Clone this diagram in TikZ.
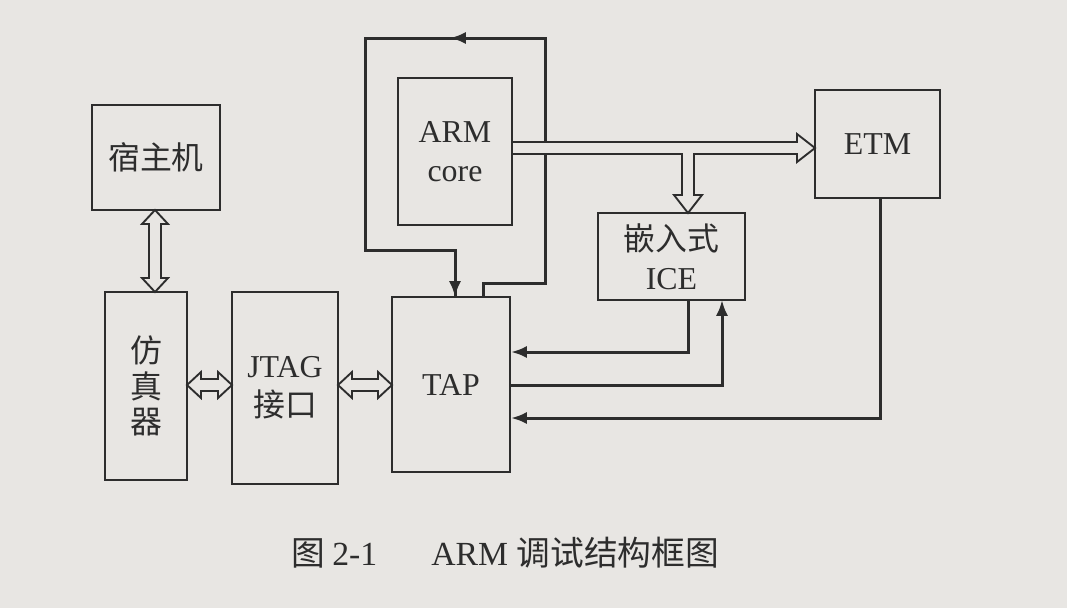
\documentclass[tikz,border=0pt]{standalone}
\usepackage{fontspec}
\setmainfont{Liberation Serif}
\newfontfamily\cjk{Noto Sans CJK SC}
\usetikzlibrary{arrows.meta}
\definecolor{paper}{RGB}{232,230,227}
\definecolor{ink}{RGB}{45,45,45}
\begin{document}
\begin{tikzpicture}[x=0.0375cm,y=-0.0375cm,
  box/.style={draw=ink,line width=2.2pt,inner sep=0pt,align=center,font=\fontsize{34}{42}\selectfont,text=ink},
  wire/.style={draw=ink,line width=3.2pt},
  hollow/.style={draw=ink,line width=2pt,fill=paper,line join=miter},
  tip/.style={-{Latex[length=17pt,width=13pt]}}]
\fill[paper] (0,0) rectangle (1067,608);
\useasboundingbox (0,0) rectangle (1067,608);
\node[box,minimum width=4.8cm,minimum height=3.94cm] (host) at (156,157.5) {\cjk 宿主机};
\node[box,minimum width=3.075cm,minimum height=7.05cm] (emu) at (146,386) {\cjk 仿\\[-4pt]\cjk 真\\[-4pt]\cjk 器};
\node[box,minimum width=3.975cm,minimum height=7.2cm] (jtag) at (285,388) {JTAG\\\cjk 接口};
\node[box,minimum width=4.425cm,minimum height=6.5625cm] (tap) at (451,384.5) {TAP};
\node[box,minimum width=4.275cm,minimum height=5.5125cm] (arm) at (455,151.5) {ARM\\core};
\node[box,minimum width=5.5125cm,minimum height=3.2625cm] (ice) at (671.5,256.5) {\cjk 嵌入式\\ICE};
\node[box,minimum width=4.6875cm,minimum height=4.05cm] (etm) at (877.5,144) {ETM};
% loop
\coordinate (la) at (483,297);
\coordinate (lb) at (483,283);
\coordinate (lc) at (545,283);
\coordinate (ld) at (545,38);
\coordinate (lm) at (450,38);
\coordinate (le) at (365,38);
\coordinate (lf) at (365,250);
\coordinate (lg) at (455,250);
\coordinate (lh) at (455,297);
\draw[wire] (la) -- (lb) -- (lc) -- (ld) -- (le) -- (lf) -- (lg) -- (lh);
\draw[wire,tip] (ld) -- (lm);
\draw[wire,tip] (lg) -- (lh);
% hollow arrows
\draw[hollow] (512,142) -- (797,142) -- (797,134) -- (815,148) -- (797,162) -- (797,154) -- (694,154) -- (694,195) -- (702,195) -- (688,213) -- (674,195) -- (682,195) -- (682,154) -- (512,154) -- cycle;
\draw[hollow] (155,210) -- (168,224) -- (161,224) -- (161,278) -- (168,278) -- (155,292) -- (142,278) -- (149,278) -- (149,224) -- (142,224) -- cycle;
\draw[hollow] (187,385) -- (201,372) -- (201,379) -- (218,379) -- (218,372) -- (232,385) -- (218,398) -- (218,391) -- (201,391) -- (201,398) -- cycle;
\draw[hollow] (338,385) -- (352,372) -- (352,379) -- (378,379) -- (378,372) -- (392,385) -- (378,398) -- (378,391) -- (352,391) -- (352,398) -- cycle;
% ICE -> TAP
\coordinate (c1) at (688,300);
\coordinate (c2) at (688,352);
\draw[wire,tip] (c1) -- (c2) -- (tap.east |- c2);
% TAP -> ICE
\coordinate (d1) at (722,385);
\coordinate (d2) at (722,300);
\draw[wire,tip] (tap.east |- d1) -- (d1) -- (d2);
% ETM -> TAP
\coordinate (e1) at (880,198);
\coordinate (e2) at (880,418);
\draw[wire,tip] (e1) -- (e2) -- (tap.east |- e2);
\node[font=\fontsize{36}{42}\selectfont,text=ink] (cap) at (505,553) {\cjk 图\ \rmfamily 2-1\hspace{1.6em}ARM\ \cjk 调试结构框图};
\end{tikzpicture}
\end{document}
